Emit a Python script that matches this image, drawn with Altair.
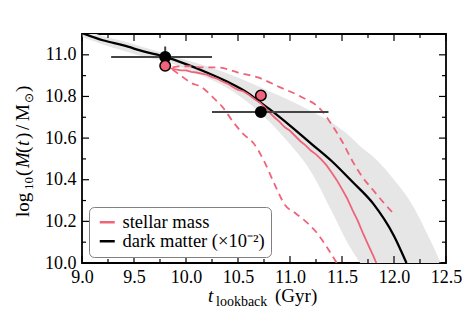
import altair as alt
import pandas as pd

RED = "#ef6479"
GRAY_BAND = "#e6e6e6"
FONT = "Liberation Serif"
W, H = 364, 229

SM_LABEL = "stellar mass"
DM_LABEL = "dark matter (×10⁻²)"

# dark matter mean track
dm_x = [9.0, 9.2, 9.4, 9.6, 9.8, 10.0, 10.2, 10.4, 10.6, 10.72, 10.8, 11.0, 11.2, 11.4, 11.6, 11.8, 12.0, 12.12]
dm_y = [11.105, 11.07, 11.045, 11.015, 10.99, 10.955, 10.915, 10.87, 10.815, 10.77, 10.74, 10.66, 10.575, 10.49, 10.39, 10.285, 10.13, 10.0]

# dark matter scatter band
band_x = [9.0, 9.2, 9.4, 9.6, 9.8, 10.0, 10.2, 10.4, 10.6, 10.8, 11.0, 11.2, 11.4, 11.55, 11.7, 11.8, 12.0, 12.15, 12.3, 12.45]
band_lo = [11.085, 11.05, 11.02, 10.99, 10.97, 10.93, 10.89, 10.84, 10.77, 10.68, 10.57, 10.44, 10.25, 10.1, 9.98, 9.9, 9.9, 9.9, 9.9, 9.9]
band_hi = [11.125, 11.09, 11.065, 11.035, 11.005, 10.975, 10.945, 10.91, 10.87, 10.825, 10.78, 10.73, 10.675, 10.62, 10.55, 10.51, 10.4, 10.3, 10.16, 10.0]

# stellar mass median track
sm_x = [9.85, 9.9, 9.95, 10.0, 10.05, 10.1, 10.15, 10.2, 10.25, 10.3, 10.35, 10.4, 10.45, 10.5,
        10.55, 10.6, 10.65, 10.7, 10.75, 10.8, 10.85, 10.9, 10.95, 11.0, 11.05, 11.1, 11.15,
        11.2, 11.25, 11.3, 11.35, 11.4, 11.45, 11.5, 11.55, 11.6, 11.65, 11.7, 11.75, 11.8, 11.83]
sm_y = [10.935, 10.93, 10.925, 10.925, 10.918, 10.915, 10.91, 10.905, 10.893, 10.885, 10.872,
        10.862, 10.845, 10.832, 10.825, 10.81, 10.79, 10.775, 10.752, 10.725, 10.7, 10.678,
        10.652, 10.635, 10.61, 10.585, 10.565, 10.54, 10.522, 10.498, 10.47, 10.435, 10.398,
        10.355, 10.31, 10.255, 10.205, 10.145, 10.09, 10.035, 10.0]

# stellar mass upper / lower percentiles (dashed)
up_x = [9.87, 9.95, 10.05, 10.15, 10.3, 10.5, 10.7, 10.9, 11.1, 11.3, 11.4, 11.5, 11.6, 11.7, 11.8, 11.9, 12.0]
up_y = [10.94, 10.945, 10.945, 10.94, 10.94, 10.915, 10.89, 10.845, 10.8, 10.735, 10.665, 10.585, 10.49, 10.41, 10.35, 10.29, 10.235]
lo_x = [9.87, 9.95, 10.05, 10.15, 10.25, 10.35, 10.45, 10.55, 10.65, 10.75, 10.85, 10.95, 11.05, 11.15, 11.25, 11.35, 11.45]
lo_y = [10.93, 10.9, 10.865, 10.845, 10.8, 10.75, 10.68, 10.62, 10.575, 10.49, 10.38, 10.28, 10.24, 10.2, 10.15, 10.08, 10.0]

# observational points
pt_x = [9.8, 10.72]
dm_pt_y = [10.99, 10.725]
sm_pt_y = [10.947, 10.805]
xerr_lo = [9.28, 10.25]
xerr_hi = [10.25, 11.37]
yerr_lo = [10.95, 10.71]
yerr_hi = [11.04, 10.74]

# ticks
x_labels = [9.0, 9.5, 10.0, 10.5, 11.0, 11.5, 12.0, 12.5]
x_minor = [9.25, 9.75, 10.25, 10.75, 11.25, 11.75, 12.25]
y_labels = [10.0, 10.2, 10.4, 10.6, 10.8, 11.0]
y_minor = [10.1, 10.3, 10.5, 10.7, 10.9]

xsc = alt.Scale(domain=[9.0, 12.5], nice=False, zero=False)
ysc = alt.Scale(domain=[10.0, 11.1], nice=False, zero=False)

xaxis = alt.Axis(values=x_labels, format=".1f", ticks=False, domain=False, grid=False,
                 labelFont=FONT, labelFontSize=18, labelColor="black", labelPadding=5,
                 labelFlush=False, title=None)
yaxis = alt.Axis(values=y_labels, format=".1f", ticks=False, domain=False, grid=False,
                 labelFont=FONT, labelFontSize=18, labelColor="black", labelPadding=6,
                 labelFlush=False, title=None)


def X(f):
    return alt.X(f, type="quantitative", scale=xsc, axis=xaxis)


def Y(f):
    return alt.Y(f, type="quantitative", scale=ysc, axis=yaxis)


band_df = pd.DataFrame({"x": band_x, "lo": band_lo, "hi": band_hi})
dm_df = pd.DataFrame({"x": dm_x, "y": dm_y, "series": DM_LABEL})
sm_df = pd.DataFrame({"x": sm_x, "y": sm_y, "series": SM_LABEL})
up_df = pd.DataFrame({"x": up_x, "y": up_y})
lo_df = pd.DataFrame({"x": lo_x, "y": lo_y})
pts = pd.DataFrame({"x": pt_x, "dm": dm_pt_y, "sm": sm_pt_y, "xlo": xerr_lo, "xhi": xerr_hi,
                    "ylo": yerr_lo, "yhi": yerr_hi})

color_scale = alt.Scale(domain=[SM_LABEL, DM_LABEL], range=[RED, "black"])
legend = alt.Legend(orient="none", legendX=7, legendY=173, title=None, symbolType="stroke",
                    symbolSize=225, symbolStrokeWidth=2.5, labelFont=FONT, labelFontSize=18.5,
                    labelColor="black", labelOffset=6, padding=6, rowPadding=0, symbolOffset=3,
                    strokeColor="#808080", cornerRadius=5, fillColor="white")

band = alt.Chart(band_df).mark_area(color=GRAY_BAND, clip=True, interpolate="monotone").encode(
    x=X("x"), y=Y("lo"), y2="hi")

dm_line = alt.Chart(dm_df).mark_line(strokeWidth=2.3, clip=True, interpolate="monotone").encode(
    x=X("x"), y=Y("y"), color=alt.Color("series:N", scale=color_scale, legend=legend))

sm_line = alt.Chart(sm_df).mark_line(strokeWidth=1.8, clip=True).encode(
    x=X("x"), y=Y("y"), color=alt.Color("series:N", scale=color_scale, legend=legend))

up_line = alt.Chart(up_df).mark_line(strokeWidth=1.8, color=RED, strokeDash=[7, 5], clip=True,
                                     interpolate="monotone").encode(x=X("x"), y=Y("y"))
lo_line = alt.Chart(lo_df).mark_line(strokeWidth=1.8, color=RED, strokeDash=[7, 5], clip=True,
                                     interpolate="monotone").encode(x=X("x"), y=Y("y"))

xerr = alt.Chart(pts).mark_rule(color="#444444", strokeWidth=2).encode(
    x=X("xlo"), x2="xhi", y=Y("dm"))
yerr = alt.Chart(pts).mark_rule(color="#444444", strokeWidth=2).encode(
    x=X("x"), y=Y("ylo"), y2="yhi")

dm_pts = alt.Chart(pts).mark_point(shape="circle", filled=True, size=110, fill="black",
                                   stroke="black", strokeWidth=1.5, opacity=1).encode(
    x=X("x"), y=Y("dm"))
sm_pts = alt.Chart(pts).mark_point(shape="circle", filled=True, size=110, fill=RED,
                                   stroke="black", strokeWidth=1.5, opacity=1).encode(
    x=X("x"), y=Y("sm"))

# inward ticks on all four sides
xmaj_df = pd.DataFrame({"v": x_labels})
xmin_df = pd.DataFrame({"v": x_minor})
ymaj_df = pd.DataFrame({"v": y_labels})
ymin_df = pd.DataFrame({"v": y_minor})

tick_layers = []
for df, ln in [(xmaj_df, 7), (xmin_df, 4)]:
    tick_layers.append(alt.Chart(df).mark_rule(color="black", strokeWidth=1.2).encode(
        x=X("v"), y=alt.value(H), y2=alt.value(H - ln)))
    tick_layers.append(alt.Chart(df).mark_rule(color="black", strokeWidth=1.2).encode(
        x=X("v"), y=alt.value(0), y2=alt.value(ln)))
for df, ln in [(ymaj_df, 7), (ymin_df, 4)]:
    tick_layers.append(alt.Chart(df).mark_rule(color="black", strokeWidth=1.2).encode(
        y=Y("v"), x=alt.value(0), x2=alt.value(ln)))
    tick_layers.append(alt.Chart(df).mark_rule(color="black", strokeWidth=1.2).encode(
        y=Y("v"), x=alt.value(W), x2=alt.value(W - ln)))

one = pd.DataFrame({"a": [0]})


def txt(s, x, y, size=18, style="normal", angle=0, align="left"):
    return alt.Chart(one).mark_text(text=s, font=FONT, fontSize=size, fontStyle=style,
                                    angle=angle, align=align, baseline="alphabetic",
                                    color="black").encode(x=alt.value(x), y=alt.value(y))


# x-axis title: t_lookback (Gyr)
xtitle = [
    txt("t", 126, 268, 19, "italic"),
    txt("lookback", 134, 272, 14),
    txt("(Gyr)", 193, 268, 19),
]
# y-axis title: log10(M(t)/M_sun), rotated
yb = -53
ytitle = [
    txt("log", yb, 183, 19, angle=270),
    txt("10", yb + 4, 156, 13, angle=270),
    txt("(", yb, 142, 19, angle=270),
    txt("M", yb, 134, 19, "italic", angle=270),
    txt("(", yb, 119, 19, angle=270),
    txt("t", yb, 112, 19, "italic", angle=270),
    txt(")", yb, 105, 19, angle=270),
    txt("/", yb, 96, 19, angle=270),
    txt("M", yb, 87, 19, angle=270),
    txt("⊙", yb + 4, 69, 12, angle=270),
    txt(")", yb, 58, 19, angle=270),
]

chart = alt.layer(
    band, dm_line, sm_line, up_line, lo_line, xerr, yerr, dm_pts, sm_pts,
    *tick_layers, *xtitle, *ytitle
).properties(
    width=W, height=H,
    autosize=alt.AutoSizeParams(type="none"),
    padding={"left": 74, "top": 26, "right": 16, "bottom": 47},
).configure_view(stroke="black", strokeWidth=1.8)

chart.save("out.html", embed_options={"renderer": "svg", "actions": False})
